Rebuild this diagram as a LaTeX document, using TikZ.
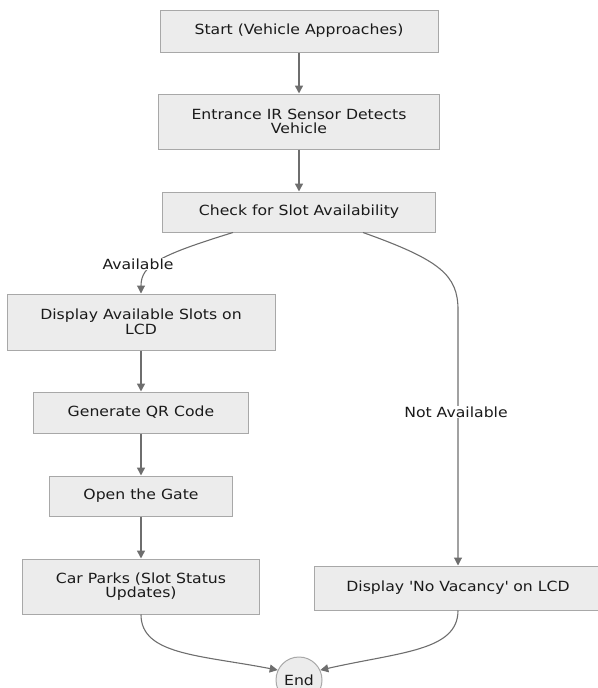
\documentclass[tikz,border=0pt]{standalone}
\usepackage{fontspec}
\setmainfont[FakeStretch=1.12]{DejaVu Sans}
\usetikzlibrary{arrows.meta}
\definecolor{boxfill}{HTML}{ECECEC}
\definecolor{boxline}{HTML}{A8A8A8}
\definecolor{edgecol}{HTML}{6E6E6E}
\definecolor{txt}{HTML}{1A1A1A}
\begin{document}
\begin{tikzpicture}[x=1pt,y=-1pt,
  box/.style={draw=boxline, fill=boxfill, line width=1pt, text=txt, align=center,
    font=\fontsize{14}{14.5}\selectfont, inner sep=0pt},
  endnode/.style={draw=boxline, fill=boxfill, line width=1pt, circle, minimum size=46pt, inner sep=0pt,
    text=txt, font=\fontsize{14}{14.5}\selectfont},
  edge/.style={draw=edgecol, line width=1.6pt, -{Triangle[length=8pt,width=8pt]}},
  cedge/.style={draw=edgecol, line width=1.1pt, -{Triangle[length=8pt,width=8pt]}},
  elabel/.style={fill=white, text=txt, inner sep=1pt, font=\fontsize{14}{14.5}\selectfont}
]
\useasboundingbox (0,0) rectangle (597,688);
\node[box, minimum width=278pt, minimum height=42pt] (start) at (299,31) {Start (Vehicle Approaches)};
\node[box, minimum width=281pt, minimum height=55pt] (entr) at (299,121.5) {Entrance IR Sensor Detects\\Vehicle};
\node[box, minimum width=273pt, minimum height=40pt] (check) at (299,212) {Check for Slot Availability};
\node[box, minimum width=268pt, minimum height=56pt] (avail) at (141,322) {Display Available Slots on\\LCD};
\node[box, minimum width=215pt, minimum height=41pt] (qr) at (141,412.5) {Generate QR Code};
\node[box, minimum width=183pt, minimum height=40pt] (gate) at (141,496) {Open the Gate};
\node[box, minimum width=237pt, minimum height=55pt] (car) at (141,586.5) {Car Parks (Slot Status\\Updates)};
\node[box, minimum width=288pt, minimum height=44pt] (novac) at (458,588) {Display \textquotesingle No Vacancy\textquotesingle\ on LCD};
\node[endnode] (endn) at (299,680) {End};

\draw[edge] (start.south) -- (entr.north);
\draw[edge] (entr.south) -- (check.north);
\draw[cedge] ([xshift=-66pt]check.south) .. controls (160,255) and (141,265) .. (avail.north);
\draw[cedge] ([xshift=64pt]check.south) .. controls (440,260) and (458,275) .. (458,310) -- (novac.north);
\draw[edge] (avail.south) -- (qr.north);
\draw[edge] (qr.south) -- (gate.north);
\draw[edge] (gate.south) -- (car.north);
\draw[cedge] (car.south) .. controls (141,655) and (200,655) .. (endn.155);
\draw[cedge] (novac.south) .. controls (458,651) and (400,652) .. (endn.25);

\node[elabel] (lav) at (138,264) {Available};
\node[elabel] (lnav) at (456,412) {Not Available};
\end{tikzpicture}
\end{document}
